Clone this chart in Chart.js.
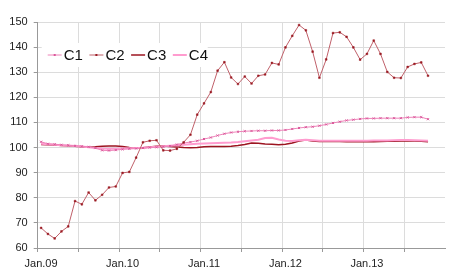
<!DOCTYPE html>
<html><head><meta charset="utf-8">
<script src="https://cdn.jsdelivr.net/npm/chart.js@4.4.1/dist/chart.umd.min.js"></script>
<style>html,body{margin:0;padding:0;background:#fff}#wrap{width:450px;height:279px;position:relative}</style>
</head><body><div id="wrap"><canvas id="c" width="450" height="279"></canvas></div>
<script>
const years = ['09','10','11','12','13'];
const monthNames = ['Jan','Feb','Mar','Apr','May','Jun','Jul','Aug','Sep','Oct','Nov','Dec'];
const categories = [];
years.forEach(y => monthNames.forEach(m => categories.push(m + '.' + y)));
const tickLabels = ['Jan.09','Jan.10','Jan.11','Jan.12','Jan.13'];
const seriesNames = ['C1','C2','C3','C4'];

const c1 = [102.3,101.5,101.3,101.1,100.9,100.7,100.5,100.3,99.8,98.9,98.8,99.0,99.3,99.5,99.6,99.8,100.0,100.1,100.3,100.6,
  101.2,101.8,102.2,102.7,103.4,104.0,104.8,105.5,106.0,106.3,106.5,106.6,106.7,106.7,106.8,106.8,107.0,107.4,107.8,108.1,
  108.3,108.7,109.2,109.8,110.3,110.8,111.1,111.4,111.6,111.6,111.7,111.7,111.7,111.7,112.0,112.1,112.1,111.3];
const c2 = [68.0,65.6,63.8,66.6,68.6,78.7,77.4,82.1,79.0,81.2,84.1,84.5,89.9,90.3,96.0,102.1,102.7,102.9,98.9,98.8,
  99.5,102.1,105.1,113.1,117.6,122.1,130.6,134.0,127.9,125.3,128.3,125.5,128.6,129.1,133.7,133.1,139.9,144.5,148.8,146.7,
  138.2,127.8,135.1,145.6,145.9,144.1,139.9,135.0,137.3,142.6,137.3,130.1,127.8,127.7,132.1,133.3,133.9,128.6];
const c3 = [101.2,101.1,101.0,100.8,100.7,100.5,100.3,100.2,100.3,100.5,100.6,100.6,100.4,100.0,99.8,99.9,100.2,100.5,100.6,100.4,
  100.2,100.0,99.9,100.0,100.3,100.4,100.4,100.4,100.5,100.8,101.2,101.8,101.7,101.4,101.3,101.1,101.3,101.8,102.6,103.0,
  102.6,102.4,102.4,102.4,102.4,102.3,102.3,102.3,102.3,102.3,102.4,102.5,102.5,102.6,102.7,102.6,102.5,102.3];
const c4 = [101.5,101.3,101.1,100.9,100.8,100.6,100.4,100.1,99.8,99.6,99.5,99.5,99.6,99.7,99.8,99.9,100.1,100.3,100.5,100.7,
  100.9,101.1,101.3,101.5,101.6,101.7,101.8,101.9,102.0,102.2,102.5,102.8,103.1,103.8,103.9,103.2,102.7,102.6,102.9,103.1,
  102.9,102.7,102.7,102.7,102.7,102.7,102.7,102.7,102.7,102.8,102.8,102.8,102.9,103.0,103.0,102.9,102.8,102.7];

const FONT = "'Liberation Sans', Arial, sans-serif";

const legendPlugin = {
  id: 'insideLegend',
  afterDraw(chart) {
    const ctx = chart.ctx;
    const area = chart.chartArea;
    const x0 = area.left + 4, y0 = area.top + 21, w = 166, h = 24;
    ctx.save();
    ctx.fillStyle = '#ffffff';
    ctx.fillRect(x0, y0, w, h);
    ctx.font = '15px ' + FONT;
    ctx.textBaseline = 'middle';
    const cy = y0 + h / 2;
    chart.data.datasets.forEach((ds, i) => {
      const lx = x0 + 6 + i * 41.7;
      ctx.strokeStyle = ds.borderColor;
      ctx.lineWidth = ds.borderWidth;
      ctx.beginPath(); ctx.moveTo(lx, cy); ctx.lineTo(lx + 14, cy); ctx.stroke();
      if (ds.legendMarker) {
        ctx.fillStyle = ds.pointBackgroundColor;
        ctx.fillRect(lx + 6, cy - 1, 2, 2);
      }
      ctx.fillStyle = '#111';
      ctx.fillText(ds.label, lx + 16, cy + 0.5);
    });
    ctx.restore();
  }
};

new Chart(document.getElementById('c'), {
  type: 'line',
  data: {
    labels: categories,
    datasets: [
      {label: seriesNames[0], data: c1, borderColor: '#ee82b8', borderWidth: 1, pointStyle: 'crossRot', pointRadius: 1.5,
       pointBorderColor: '#d9589a', pointBackgroundColor: '#d9589a', pointBorderWidth: 1, legendMarker: true, tension: 0, order: 2},
      {label: seriesNames[1], data: c2, borderColor: '#c0606a', borderWidth: 1, pointStyle: 'rect', pointRadius: 1.2,
       pointBorderColor: '#9a1a22', pointBackgroundColor: '#9a1a22', pointBorderWidth: 0.5, legendMarker: true, tension: 0, order: 1},
      {label: seriesNames[2], data: c3, borderColor: '#9c1420', borderWidth: 1.5, pointRadius: 0, tension: 0, order: 4},
      {label: seriesNames[3], data: c4, borderColor: '#ff9ccf', borderWidth: 2, pointRadius: 0, tension: 0, order: 3}
    ]
  },
  options: {
    responsive: false,
    animation: false,
    devicePixelRatio: 1,
    layout: {padding: {top: 22, right: 2.5, left: 0, bottom: 0}},
    plugins: {legend: {display: false}, tooltip: {enabled: false}},
    scales: {
      x: {
        type: 'category',
        offset: true,
        grid: {
          offset: true,
          color: ctx => (ctx.index % 6 === 0 ? '#dcdcdc' : 'rgba(0,0,0,0)'),
          tickColor: ctx => (ctx.index % 6 === 0 ? '#999999' : 'rgba(0,0,0,0)'),
          tickLength: 4,
          lineWidth: 1
        },
        border: {color: '#999999', width: 1},
        ticks: {
          autoSkip: false,
          maxRotation: 0,
          minRotation: 0,
          padding: 5,
          color: '#222',
          font: {family: FONT, size: 11},
          callback: function(v, i) {
            const lab = this.getLabelForValue(v);
            return tickLabels.includes(lab) ? lab : '';
          }
        },
        afterFit: s => { s.height = 31; }
      },
      y: {
        min: 60, max: 150,
        grid: {color: '#dcdcdc', tickColor: '#999999', tickLength: 4, lineWidth: 1},
        border: {color: '#999999', width: 1},
        ticks: {stepSize: 10, padding: 6, color: '#222', font: {family: FONT, size: 11}},
        afterFit: s => { s.width = 37.7; }
      }
    }
  },
  plugins: [legendPlugin]
});
</script></body></html>
